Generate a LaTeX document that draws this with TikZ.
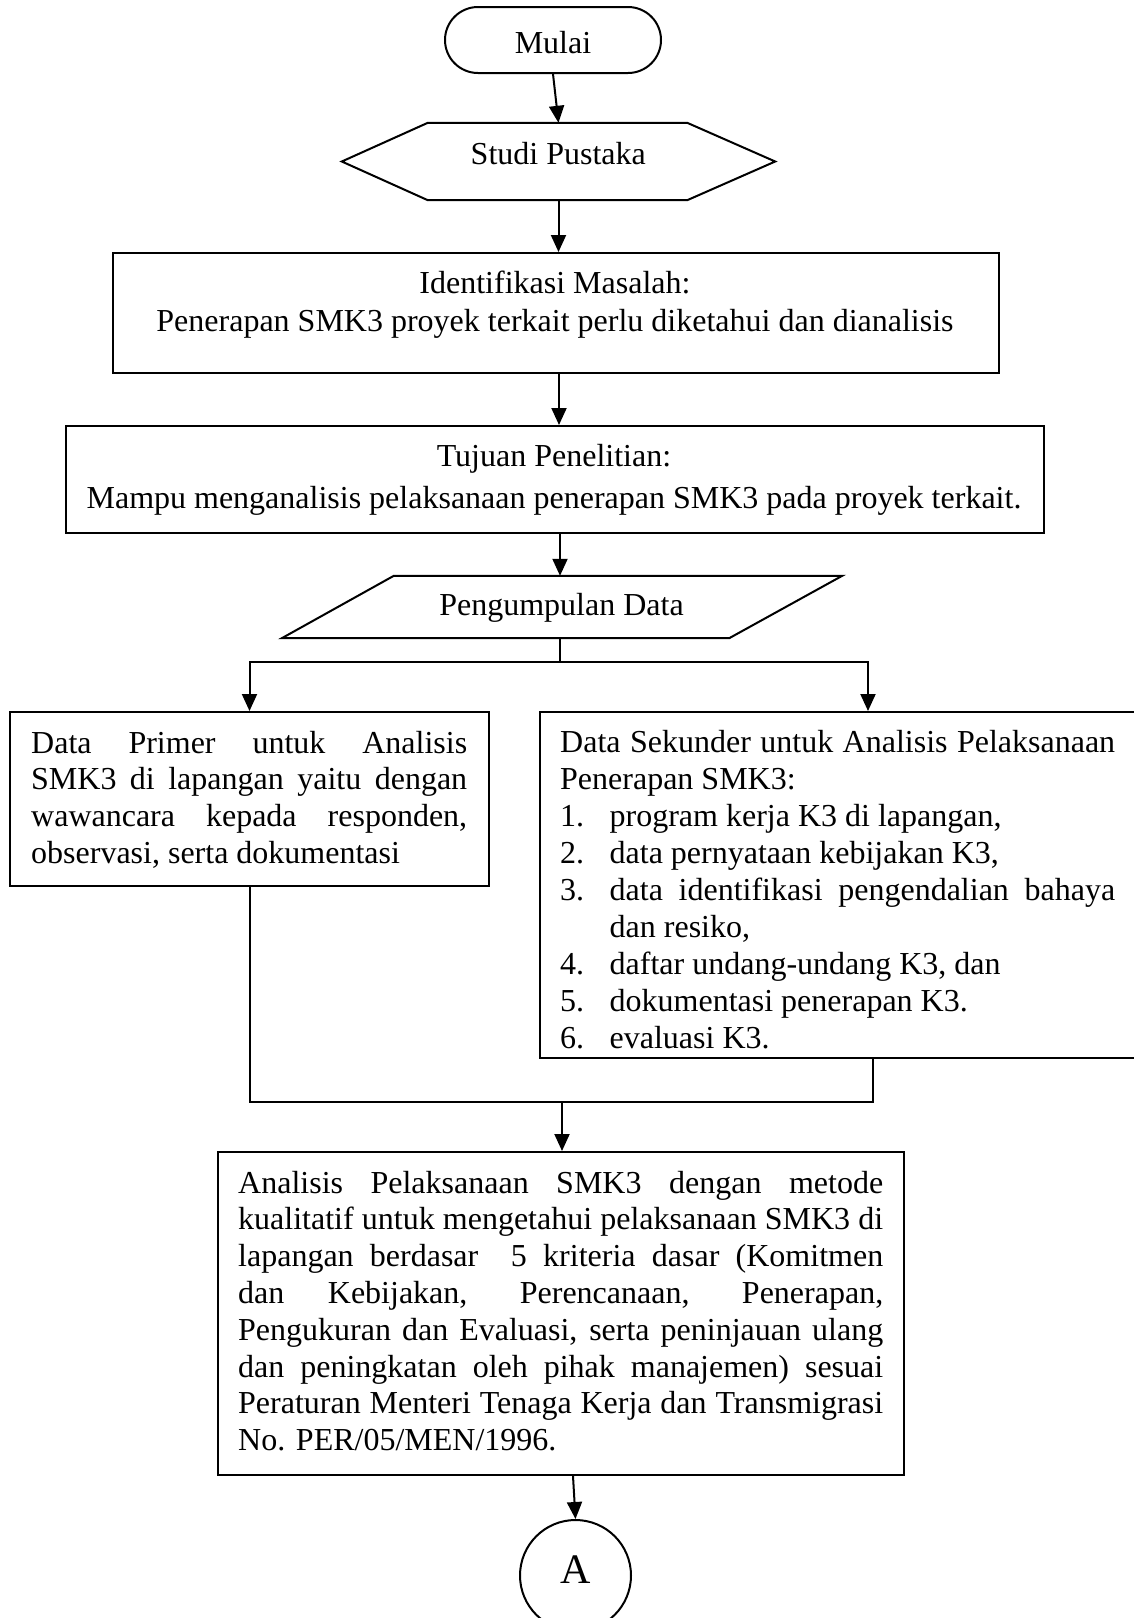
\documentclass[tikz,border=0pt]{standalone}
\usepackage{fontspec}
\setmainfont{Liberation Serif}
\usetikzlibrary{arrows.meta,shapes.misc,calc}
\begin{document}
\begin{tikzpicture}[x=1pt,y=-1pt,
  ln/.style={line width=2pt},
  arr/.style={line width=2pt,-{Triangle[width=15pt,length=17pt]}},
  boxshape/.style={draw,line width=2pt,rectangle,inner sep=0pt},
  ghost/.style={rectangle,inner sep=0pt},
  txt/.style={inner sep=0pt,font=\fontsize{32}{36.8}\selectfont},
]
\useasboundingbox (0,0) rectangle (1134,1618);
\fill[white] (0,0) rectangle (1134,1618);

% Mulai
\node[draw,line width=2pt,rounded rectangle,minimum width=216pt,minimum height=66pt,inner sep=0pt] (mulai) at (553,40) {};
\node[txt,anchor=base] (mulaiT) at (553,53) {Mulai};

% Studi Pustaka (hexagon)
\node[ghost,minimum width=433pt,minimum height=77pt] (hex) at (558.5,161.5) {};
\draw[ln] (hex.west) -- ([xshift=86pt]hex.north west) -- ([xshift=-88pt]hex.north east) -- (hex.east)
  -- ([xshift=-88pt]hex.south east) -- ([xshift=86pt]hex.south west) -- cycle;
\node[txt,anchor=base] (hexT) at (558.3,164) {Studi Pustaka};

% Identifikasi
\node[boxshape,minimum width=886pt,minimum height=120pt] (ident) at (556,313) {};
\node[txt,anchor=north,align=center,font=\fontsize{32}{38}\selectfont] (identT) at (555,266.4)
  {\strut Identifikasi Masalah:\\Penerapan SMK3 proyek terkait perlu diketahui dan dianalisis};

% Tujuan
\node[boxshape,minimum width=978pt,minimum height=107pt] (tuj) at (555,479.5) {};
\node[txt,anchor=north,align=center,font=\fontsize{32}{42}\selectfont] (tujT) at (554,436.6)
  {\strut Tujuan Penelitian:\\Mampu menganalisis pelaksanaan penerapan SMK3 pada proyek terkait.};

% Pengumpulan Data (parallelogram)
\node[ghost,minimum width=560pt,minimum height=62pt] (para) at (562,607) {};
\draw[ln] ([xshift=112pt]para.north west) -- (para.north east) -- ([xshift=-113pt]para.south east)
  -- (para.south west) -- cycle;
\node[txt,anchor=base] (paraT) at (561.5,615) {Pengumpulan Data};

% Left box
\node[boxshape,minimum width=479pt,minimum height=174pt] (lbox) at (249.5,799) {};
\node[txt,anchor=north west,align=left] (lboxT) at (31,727.2)
  {\hbox to 436pt{\strut Data Primer untuk Analisis}\\
   \hbox to 436pt{SMK3 di lapangan yaitu dengan}\\
   \hbox to 436pt{wawancara kepada responden,}\\
   \hbox{observasi, serta dokumentasi}};

% Right box
\node[boxshape,minimum width=620pt,minimum height=346pt] (rbox) at (850,885) {};
\node[txt,anchor=north west,align=left,font=\fontsize{32}{37.1}\selectfont] (rboxT) at (560,726)
  {\hbox to 555pt{\strut Data Sekunder untuk Analisis Pelaksanaan}\\
   \hbox{Penerapan SMK3:}\\
   \hbox{\hbox to 49.5pt{1.\hfil}program kerja K3 di lapangan,}\\
   \hbox{\hbox to 49.5pt{2.\hfil}data pernyataan kebijakan K3,}\\
   \hbox to 555pt{\hbox to 49.5pt{3.\hfil}data identifikasi pengendalian bahaya}\\
   \hbox{\kern49.5pt dan resiko,}\\
   \hbox{\hbox to 49.5pt{4.\hfil}daftar undang-undang K3, dan}\\
   \hbox{\hbox to 49.5pt{5.\hfil}dokumentasi penerapan K3.}\\
   \hbox{\hbox to 49.5pt{6.\hfil}evaluasi K3.}};

% Analysis box
\node[boxshape,minimum width=686pt,minimum height=323pt] (ana) at (561,1313.5) {};
\node[txt,anchor=north west,align=left] (anaT) at (238,1167.2)
  {\hbox to 645pt{\strut Analisis Pelaksanaan SMK3 dengan metode}\\
   \hbox to 645pt{kualitatif untuk mengetahui pelaksanaan SMK3 di}\\
   \hbox to 645pt{lapangan berdasar\ \ 5 kriteria dasar (Komitmen}\\
   \hbox to 645pt{dan Kebijakan, Perencanaan, Penerapan,}\\
   \hbox to 645pt{Pengukuran dan Evaluasi, serta peninjauan ulang}\\
   \hbox to 645pt{dan peningkatan oleh pihak manajemen) sesuai}\\
   \hbox to 645pt{Peraturan Menteri Tenaga Kerja dan Transmigrasi}\\
   \hbox{No. PER/05/MEN/1996.}};

% Connector A
\node[draw,circle,line width=2pt,minimum size=111pt,inner sep=0pt] (A) at (575.5,1575.5) {};
\node[inner sep=0pt,anchor=base,font=\fontsize{42}{50}\selectfont] (AT) at (575.5,1583) {A};

% Connectors
\draw[arr] (mulai.south) -- (hex.north);
\draw[arr] (hex.south) -- (hex.south |- ident.north);
\draw[arr] ([xshift=3pt]ident.south) -- ([xshift=3pt]ident.south |- tuj.north);
\draw[arr] ([xshift=5pt]tuj.south) -- ([xshift=5pt]tuj.south |- para.north);
\coordinate (split) at (560,662);
\draw[ln] (para.south -| split) -- (split);
\draw[arr] (split) -| (lbox.north);
\draw[arr] (split) -| ([xshift=18pt]rbox.north);
\coordinate (merge) at (562,1102);
\draw[ln] (lbox.south) |- ([xshift=23pt]rbox.south |- merge) -- ([xshift=23pt]rbox.south);
\draw[arr] (merge) -- (merge |- ana.north);
\draw[arr] ([xshift=12pt]ana.south) -- (A.north);
\end{tikzpicture}
\end{document}
